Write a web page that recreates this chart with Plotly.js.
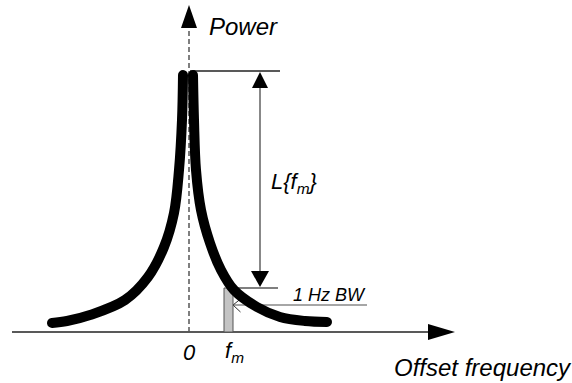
<!DOCTYPE html>
<html><head><meta charset="utf-8">
<script src="https://cdn.plot.ly/plotly-3.0.1.min.js"></script>
<style>html,body{margin:0;padding:0;background:#fff;}#chart{width:572px;height:383px;}</style>
</head><body><div id="chart"></div>
<script>
// ---- Data (offset frequency and power in arbitrary units; 0 power = axis) ----
const leftOffset  = [-137, -122, -99, -64, -41, -25, -15, -10, -7, -6];
const leftPower   = [9, 11, 17, 32, 55, 85, 119, 162, 212, 257];
const rightOffset = [4, 5, 7, 12, 21, 32, 45, 68, 91, 116, 138];
const rightPower  = [257, 212, 162, 122, 89, 62, 42, 25, 15, 11, 10];
const fmOffset = [39.5];
const fmPower  = [44];
const peakLevel = 261;
const tickOffsets = [0, 39.5];
const tickLabels  = ['0', 'f<sub>m</sub>'];

const FONT = 'Liberation Sans, Arial, sans-serif';
const fnt = (s) => ({family: FONT, size: s, color: '#000', style: 'italic'});

const traces = [
  {type: 'bar', x: fmOffset, y: fmPower, width: 9,
   marker: {color: '#c4c4c4', line: {color: '#555', width: 1}}, hoverinfo: 'skip'},
  {type: 'scatter', mode: 'lines', x: leftOffset, y: leftPower,
   line: {color: '#000', width: 10, shape: 'spline', smoothing: 1}, hoverinfo: 'skip'},
  {type: 'scatter', mode: 'lines', x: rightOffset, y: rightPower,
   line: {color: '#000', width: 10, shape: 'spline', smoothing: 1}, hoverinfo: 'skip'}
];

const fmX = fmOffset[0], fmY = fmPower[0];
const arrX = 71;
const shapes = [
  // x axis
  {type: 'line', x0: -177, x1: 241, y0: 0, y1: 0, line: {color: '#222', width: 1.5}, layer: 'below'},
  {type: 'path', path: 'M266,0 L239,8 L239,-8 Z', fillcolor: '#000', line: {width: 0}},
  // y axis (dashed)
  {type: 'line', x0: 0, x1: 0, y0: 0, y1: 305, line: {color: '#555', width: 1.5, dash: '5px,3px'}, layer: 'below'},
  {type: 'path', path: 'M0,327 L-8,304 L8,304 Z', fillcolor: '#000', line: {width: 0}},
  // peak reference line
  {type: 'line', x0: 1, x1: 91, y0: peakLevel, y1: peakLevel, line: {color: '#222', width: 1.5}, layer: 'below'},
  // L{fm} double arrow
  {type: 'line', x0: arrX, x1: arrX, y0: peakLevel - 16, y1: fmY + 16, line: {color: '#888', width: 2}, layer: 'below'},
  {type: 'path', path: `M${arrX},${peakLevel - 1} L${arrX - 8},${peakLevel - 17} L${arrX + 8},${peakLevel - 17} Z`, fillcolor: '#000', line: {width: 0}},
  {type: 'path', path: `M${arrX},${fmY + 1} L${arrX - 9},${fmY + 17} L${arrX + 9},${fmY + 17} Z`, fillcolor: '#000', line: {width: 0}},
  // level line at fm
  {type: 'line', x0: fmX + 4.5, x1: 89, y0: fmY, y1: fmY, line: {color: '#555', width: 1.5}, layer: 'below'},
  // 1 Hz BW line with small open arrow
  {type: 'line', x0: fmX + 4.5, x1: 178, y0: 27, y1: 27, line: {color: '#888', width: 1.5}, layer: 'below'},
  {type: 'path', path: `M${fmX + 12},33 L${fmX + 4.5},27 L${fmX + 12},20`, line: {color: '#333', width: 1}, layer: 'below'}
];

const annotations = [
  {text: 'Power', x: 18, y: 306, xanchor: 'left', yanchor: 'middle', font: fnt(24)},
  {text: 'Offset frequency', x: 203, y: -35, xanchor: 'left', yanchor: 'middle', font: fnt(24)},
  {text: 'L{f<sub>m</sub>}', x: 80, y: 149, xanchor: 'left', yanchor: 'middle', font: fnt(22)},
  {text: '1 Hz BW', x: 102, y: 37, xanchor: 'left', yanchor: 'middle', font: fnt(18)}
];
tickOffsets.forEach((t, i) => annotations.push({
  text: tickLabels[i], x: t, y: -20, xanchor: i === 0 ? 'center' : 'left', xshift: i === 0 ? 0 : -6,
  yanchor: 'middle', font: fnt(22)
}));
annotations.forEach(a => { a.xref = 'x'; a.yref = 'y'; a.showarrow = false; });

const layout = {
  width: 572, height: 383, margin: {l: 0, r: 0, t: 0, b: 0},
  paper_bgcolor: '#fff', plot_bgcolor: '#fff', showlegend: false,
  xaxis: {range: [-189, 383], visible: false, fixedrange: true},
  yaxis: {range: [-51, 332], visible: false, fixedrange: true},
  bargap: 0, shapes: shapes, annotations: annotations
};

Plotly.newPlot('chart', traces, layout, {displayModeBar: false, staticPlot: true}).then(() => {
  document.querySelectorAll('.scatterlayer .js-line').forEach(p => {
    p.style.strokeLinecap = 'round';
    p.style.strokeLinejoin = 'round';
  });
});
</script></body></html>
